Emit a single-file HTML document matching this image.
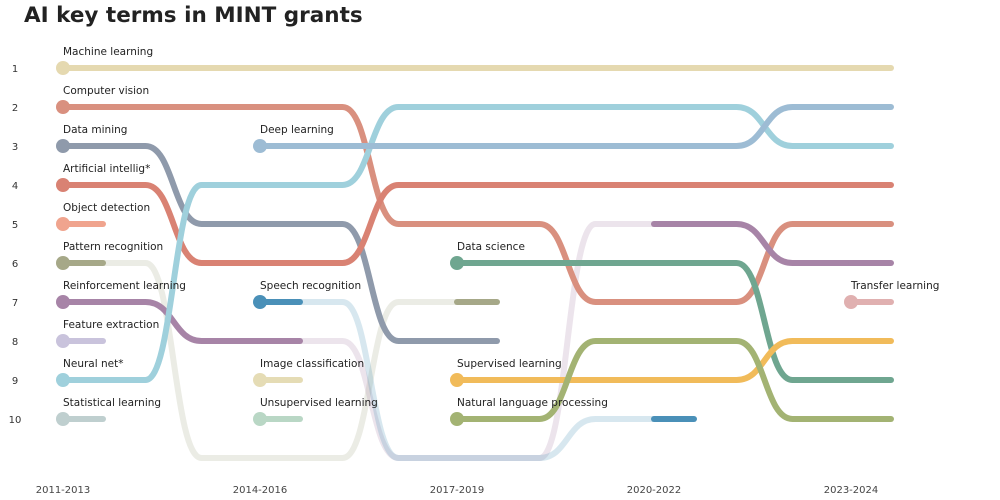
<!DOCTYPE html>
<html><head><meta charset="utf-8">
<style>
body{margin:0;background:#fff;width:1000px;height:500px;overflow:hidden;font-family:"Liberation Sans","DejaVu Sans",sans-serif;}
svg{display:block}
text{font-family:"DejaVu Sans","Liberation Sans",sans-serif;}
</style></head>
<body>
<svg id="chart" width="1000" height="500" viewBox="0 0 1000 500">
<text x="24" y="22" font-size="21.5" font-weight="bold" fill="#222" style="font-family:'DejaVu Sans','Liberation Sans',sans-serif">AI key terms in MINT grants</text>
<g id="axes"></g>
<g id="faded"></g>
<g id="solid"></g>
<g id="labels"></g>
</svg>
<script>
const periods = ["2011-2013","2014-2016","2017-2019","2020-2022","2023-2024"];
const rankTicks = [1,2,3,4,5,6,7,8,9,10];
const seriesNames = ["Machine learning","Computer vision","Data mining","Artificial intellig*","Object detection","Pattern recognition","Reinforcement learning","Feature extraction","Neural net*","Statistical learning","Deep learning","Speech recognition","Image classification","Unsupervised learning","Data science","Supervised learning","Natural language processing","Transfer learning"];
const seriesColors = ["#e5d9b0","#d9907f","#8f9aab","#d98273","#f0a48e","#a6a888","#a784a7","#c9c3dc","#9fd0dc","#bfcfcf","#9dbcd4","#4a90b8","#e5dcb5","#b9d7c5","#6fa690","#f1bb5a","#a3b373","#e0b0b0"];
// rank per period; 11 = outside top 10; null = absent
const r_ML  = [1,1,1,1,1];
const r_CV  = [2,2,5,7,5];
const r_DM  = [3,5,8,null,null];
const r_AI  = [4,6,4,4,4];
const r_OD  = [5,null,null,null,null];
const r_PR  = [6,11,7,null,null];
const r_RL  = [7,8,11,5,6];
const r_FE  = [8,null,null,null,null];
const r_NN  = [9,4,2,2,3];
const r_SL  = [10,null,null,null,null];
const r_DL  = [null,3,3,3,2];
const r_SR  = [null,7,11,10,null];
const r_IC  = [null,9,null,null,null];
const r_UL  = [null,10,null,null,null];
const r_DS  = [null,null,6,6,9];
const r_SUP = [null,null,9,9,8];
const r_NLP = [null,null,10,8,10];
const r_TL  = [null,null,null,null,7];
const ranks = [r_ML,r_CV,r_DM,r_AI,r_OD,r_PR,r_RL,r_FE,r_NN,r_SL,r_DL,r_SR,r_IC,r_UL,r_DS,r_SUP,r_NLP,r_TL];

const NS="http://www.w3.org/2000/svg";
const xScale = i => 63 + i*197;
const yScale = r => 68 + (r-1)*39;
const STUB=40, HW=28;
function mk(tag, attrs, parent){const e=document.createElementNS(NS,tag);for(const k in attrs)e.setAttribute(k,attrs[k]);parent.appendChild(e);return e;}
const axes=document.getElementById('axes'), faded=document.getElementById('faded'), solid=document.getElementById('solid'), labels=document.getElementById('labels');

rankTicks.forEach(r=>{
  const t=mk('text',{x:15,y:yScale(r)+4,'font-size':10,fill:'#333','text-anchor':'middle'},axes);
  
  
  t.textContent=r;
});
periods.forEach((p,i)=>{
  const t=mk('text',{x:xScale(i),y:493,'font-size':10,fill:'#444','text-anchor':'middle'},axes);
  
  
  t.textContent=p;
});

ranks.forEach((rk,s)=>{
  const col=seriesColors[s];
  const slug=seriesNames[s].toLowerCase().replace(/[^a-z]+/g,'-').replace(/-$/,'');
  let first=rk.findIndex(v=>v!==null);
  let last=rk.length-1; while(rk[last]===null) last--;
  for(let i=first;i<=last;i++){
    const r=rk[i]; if(r===null) continue;
    const x=xScale(i), y=yScale(r);
    if(r<=10){
      const st=mk('path',{d:`M${x},${y}L${x+STUB},${y}`,stroke:col,'stroke-width':6,fill:'none','stroke-linecap':'round'},solid);
      
      
    }
    if(i<last && rk[i+1]!==null){
      const r2=rk[i+1], x2=xScale(i+1), y2=yScale(r2);
      const x0=x+STUB, mid=(x0+x2)/2-8;
      const fade=(r>10||r2>10);
      const xs = (r>10)? x : x0;
      const d=`M${xs},${y}L${mid-HW},${y}C${mid},${y} ${mid},${y2} ${mid+HW},${y2}L${x2},${y2}`;
      const p=mk('path',{d:d,stroke:col,'stroke-width':6,fill:'none','stroke-linecap':fade?'butt':'round','stroke-opacity':fade?0.22:1},fade?faded:solid);
      
      
    }
  }
  const fx=xScale(first), fy=yScale(rk[first]);
  const c=mk('circle',{cx:fx,cy:fy,r:7,fill:col},labels);
  
  
  const t=mk('text',{x:fx,y:fy-13,'font-size':10.5,fill:'#222'},labels);
  
  
  t.textContent=seriesNames[s];
});
</script>
</body></html>
